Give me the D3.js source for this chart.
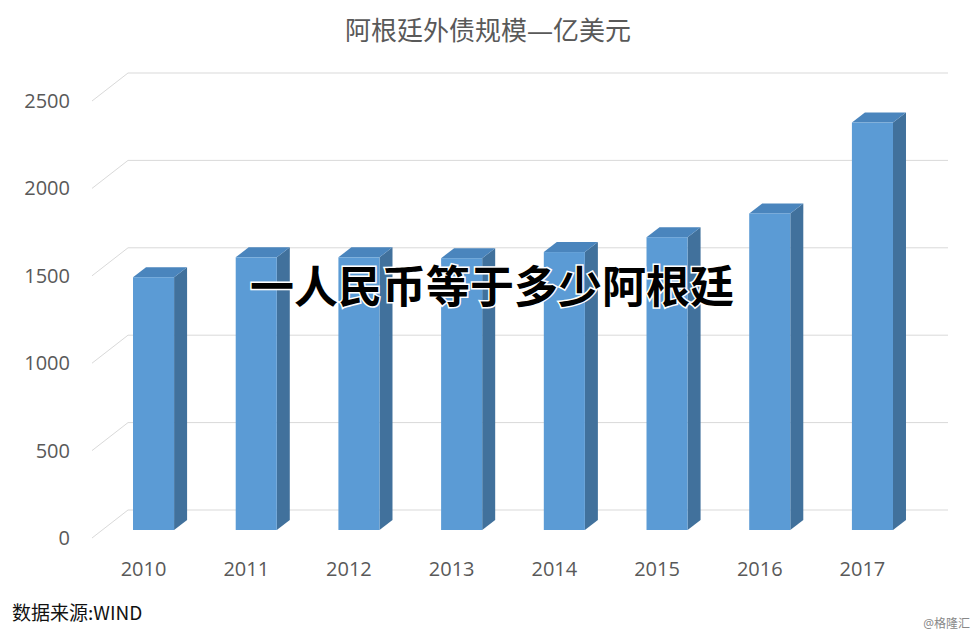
<!DOCTYPE html>
<html><head><meta charset="utf-8">
<script src="https://cdn.jsdelivr.net/npm/d3@7"></script>
<style>body{margin:0;background:#fff}</style></head>
<body>
<script>
const years = ["2010","2011","2012","2013","2014","2015","2016","2017"];
const debt = [1446, 1560, 1560, 1555, 1590, 1675, 1811, 2331];
const ticks = [0, 500, 1000, 1500, 2000, 2500];

const W = 977, H = 638;
const svg = d3.select("body").append("svg").attr("width", W).attr("height", H)
  .style("font-family", "'Open Sans', 'Noto Sans CJK SC', sans-serif");

const dx = 36, dy = -28;        // wall depth offset
const left = 92;
const y = d3.scaleLinear().domain([0, 2500]).range([538, 101]);
const x = d3.scaleBand().domain(years).range([102.2, 923.8]).paddingInner(0.6).paddingOuter(0.3);

// gridlines (floor edge + back wall)
ticks.forEach(t => {
  const yy = y(t);
  svg.append("polyline")
    .attr("points", `${left},${yy} ${left + dx},${yy + dy} ${948},${yy + dy}`)
    .attr("fill", "none").attr("stroke", "#d9d9d9").attr("stroke-width", 1);
  svg.append("text").attr("x", 70).attr("y", yy + 7).attr("text-anchor", "end")
    .attr("font-size", 20).attr("fill", "#595959").text(t);
});

// bars
const bd = 13, bh = -10, midY = 8;
years.forEach((yr, i) => {
  const x0 = x(yr), w = x.bandwidth();
  const top = y(debt[i]) - midY, bot = y(0) - midY;
  const g = svg.append("g");
  g.append("polygon").attr("fill", "#41719c")
    .attr("points", `${x0 + w},${top} ${x0 + w + bd},${top + bh} ${x0 + w + bd},${bot + bh} ${x0 + w},${bot}`);
  g.append("polygon").attr("fill", "#4a85bd")
    .attr("points", `${x0},${top} ${x0 + bd},${top + bh} ${x0 + w + bd},${top + bh} ${x0 + w},${top}`);
  g.append("rect").attr("x", x0).attr("y", top).attr("width", w).attr("height", bot - top).attr("fill", "#5b9bd5");
  svg.append("text").attr("x", x0 + w / 2 - 10).attr("y", 576).attr("text-anchor", "middle")
    .attr("font-size", 20).attr("fill", "#595959").text(yr);
});

svg.append("text").attr("x", 488).attr("y", 40).attr("text-anchor", "middle")
  .attr("font-size", 26).attr("fill", "#595959").text("阿根廷外债规模—亿美元");

svg.append("text").attr("x", 12).attr("y", 620).attr("font-size", 19).attr("fill", "#111")
  .style("font-family", "'Noto Sans CJK SC', 'DejaVu Sans Mono', monospace").text("数据来源:WIND");

svg.append("text").attr("x", 970).attr("y", 628).attr("text-anchor", "end")
  .attr("font-size", 12).attr("fill", "#888").text("@格隆汇");

svg.append("text").attr("x", 492).attr("y", 303).attr("text-anchor", "middle")
  .attr("font-size", 44).attr("font-weight", "bold").attr("fill", "#000")
  .attr("stroke", "#fff").attr("stroke-width", 3).attr("paint-order", "stroke")
  .style("font-family", "'Noto Sans CJK SC', sans-serif").text("一人民币等于多少阿根廷");
</script>
</body></html>
